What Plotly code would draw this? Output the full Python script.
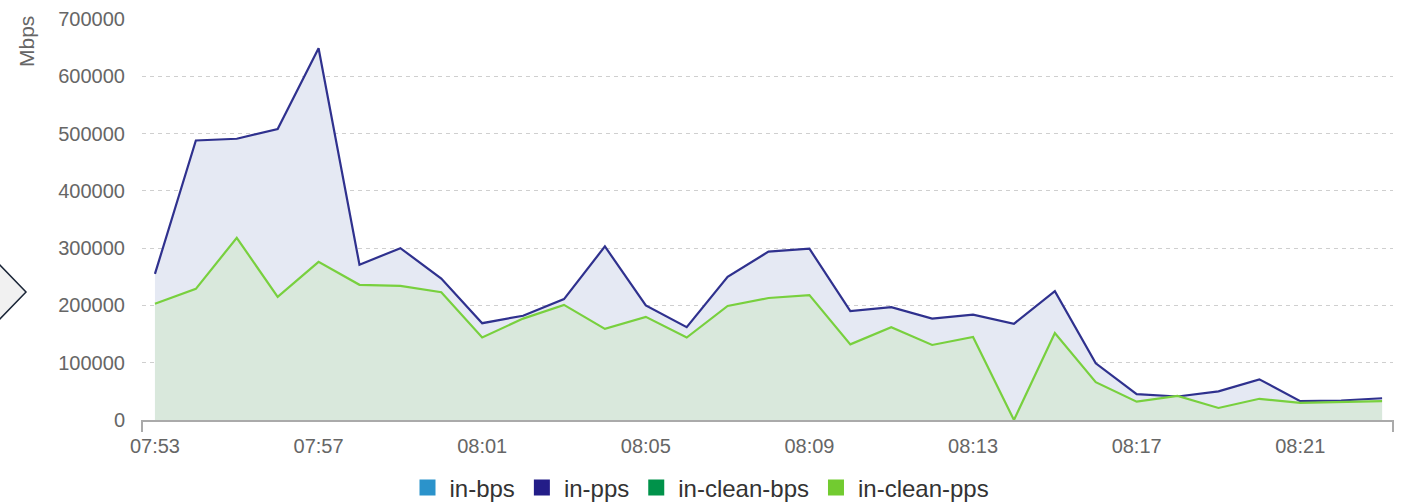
import plotly.graph_objects as go
import pandas as pd

# ---- data ----
times = ["07:53", "07:54", "07:55", "07:56", "07:57", "07:58", "07:59", "08:00",
         "08:01", "08:02", "08:03", "08:04", "08:05", "08:06", "08:07", "08:08",
         "08:09", "08:10", "08:11", "08:12", "08:13", "08:14", "08:15", "08:16",
         "08:17", "08:18", "08:19", "08:20", "08:21", "08:22", "08:23"]
in_pps = [255000, 488000, 491000, 508000, 649000, 271000, 300000, 247000,
          169000, 182000, 211000, 303000, 200000, 162000, 250000, 294000,
          299000, 190000, 197000, 177000, 184000, 168000, 225000, 99000,
          45000, 41000, 50000, 71000, 33000, 34000, 38000]
in_clean_pps = [203000, 229000, 318000, 215000, 276000, 236000, 234000, 223000,
                144000, 177000, 201000, 159000, 180000, 144000, 199000, 213000,
                218000, 132000, 162000, 131000, 145000, 0, 152000, 66000,
                32000, 42000, 21000, 37000, 30000, 31000, 33000]
legend_names = ["in-bps", "in-pps", "in-clean-bps", "in-clean-pps"]
legend_colors = ["#2b93cb", "#231d88", "#00924a", "#72cb30"]
y_ticks = [0, 100000, 200000, 300000, 400000, 500000, 600000, 700000]
y_title = "Mbps"

# ---- build ----
x = pd.to_datetime(["2024-01-01 " + t for t in times])

fig = go.Figure()
fig.add_trace(go.Scatter(
    x=x, y=in_pps, mode="lines", fill="tozeroy", fillcolor="#e5e9f3",
    line=dict(color="#2f318e", width=2.2), showlegend=False, name="in-pps"))
fig.add_trace(go.Scatter(
    x=x, y=in_clean_pps, mode="lines", fill="tozeroy", fillcolor="#d9e8dc",
    line=dict(color="#78d03e", width=2.2), showlegend=False, name="in-clean-pps"))

for n, c in zip(legend_names, legend_colors):
    fig.add_trace(go.Scatter(
        x=[None], y=[None], mode="markers", name=n,
        marker=dict(symbol="square", size=16, color=c)))

x0 = x[0] - pd.Timedelta(seconds=19)
x1 = x[-1] + pd.Timedelta(seconds=16)

W, H = 1401, 504
L, R, T, B = 142, 8, 19, 84
pw, ph = W - L - R, H - T - B

def px_x(p):
    return (p - L) / pw

def px_y(p):
    return (H - B - p) / ph

fig.update_layout(
    width=W, height=H,
    margin=dict(l=L, r=R, t=T, b=B, pad=0, autoexpand=False),
    paper_bgcolor="white", plot_bgcolor="white",
    font=dict(family="Liberation Sans, Arial, sans-serif", size=20, color="#666666"),
    xaxis=dict(
        type="date", range=[x0, x1], tickformat="%H:%M",
        tick0=x[0], dtick=240000, showgrid=False, zeroline=False,
        showline=True, linecolor="#aaaaaa", linewidth=2, ticks="",
        tickfont=dict(size=20, color="#666666"), ticklabelstandoff=7,
        fixedrange=True),
    yaxis=dict(
        range=[0, 700000], tickvals=y_ticks, tickformat="d",
        showgrid=True, gridcolor="#cfcfcf", griddash="4px,4px", gridwidth=1,
        zeroline=False, showline=False, ticks="",
        tickfont=dict(size=20, color="#666666"), ticklabelstandoff=16,
        fixedrange=True),
    legend=dict(
        orientation="h", x=px_x(700), xanchor="center",
        y=px_y(488), yanchor="middle", itemwidth=34,
        font=dict(size=24, color="#333333"), itemclick=False),
    showlegend=True,
)

fig.add_annotation(
    text=y_title, textangle=-90, xref="paper", yref="paper",
    x=px_x(27), y=px_y(42), xanchor="center", yanchor="middle",
    showarrow=False, font=dict(size=21, color="#666666"))

# end ticks of x axis
for xp in (0, 1):
    fig.add_shape(type="line", xref="paper", yref="paper",
                  x0=xp, x1=xp, y0=0, y1=-12 / ph,
                  line=dict(color="#aaaaaa", width=2))

# partial chevron ui element on the left edge
path = "M {},{} L {},{} L {},{} Z".format(
    px_x(-3), px_y(262), px_x(26), px_y(292), px_x(-3), px_y(322))
fig.add_shape(type="path", xref="paper", yref="paper", path=path,
              fillcolor="#f1f1f1", line=dict(color="#1b2638", width=1.5))

fig.write_html(
    "out.html",
    config={"displayModeBar": False},
    post_script="document.body.style.margin='0';document.body.style.overflow='hidden';")
